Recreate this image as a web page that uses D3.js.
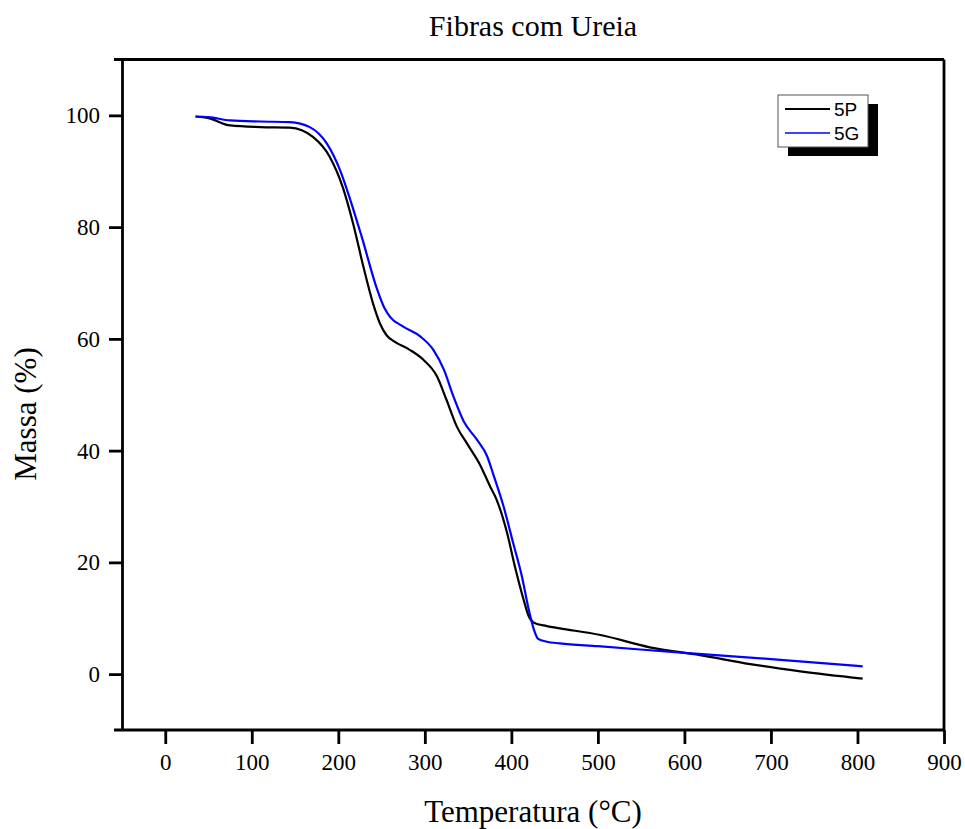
<!DOCTYPE html>
<html>
<head>
<meta charset="utf-8">
<script src="https://cdn.jsdelivr.net/npm/d3@7"></script>
<style>
  body { margin: 0; background: #fff; }
</style>
</head>
<body>
<svg width="965" height="829"></svg>
<script>
// Temperatura (°C) e massa (%) de cada amostra
const temp5P = [35, 50, 75, 110, 144, 171, 190, 205, 217, 229, 240, 248, 256, 264, 283, 298, 314, 325, 337, 349, 364, 376, 383, 395, 404, 414, 420, 426, 441, 456, 503, 560, 618, 676, 734, 806];
const massa5P = [99.8, 99.5, 98.2, 97.9, 97.8, 96.1, 92.6, 87.2, 80.7, 72.9, 66.4, 62.8, 60.6, 59.6, 58.0, 56.3, 53.3, 49.1, 44.3, 41.2, 37.4, 33.4, 31.2, 25.3, 19.3, 13.4, 10.4, 9.2, 8.6, 8.2, 7.0, 4.8, 3.4, 1.8, 0.5, -0.8];

const temp5G = [35, 50, 75, 110, 144, 167, 187, 202, 214, 227, 245, 253, 260, 275, 295, 310, 322, 333, 345, 360, 372, 379, 391, 402, 412, 420, 426, 431, 441, 456, 500, 600, 700, 806];
const massa5G = [99.8, 99.7, 99.1, 98.9, 98.8, 97.9, 94.9, 90.2, 84.8, 78.3, 68.8, 65.6, 63.9, 62.2, 60.4, 58.0, 54.5, 49.7, 45.2, 42.0, 39.0, 35.8, 30.0, 23.5, 17.6, 11.6, 8.0, 6.3, 5.8, 5.5, 5.0, 3.8, 2.7, 1.4];

const xTicks = [0, 100, 200, 300, 400, 500, 600, 700, 800, 900];
const yTicks = [0, 20, 40, 60, 80, 100];

const series = [
    { nome: "5P", cor: "#000000", t: temp5P, m: massa5P },
    { nome: "5G", cor: "#0000ff", t: temp5G, m: massa5G }
];

const serif = "'Liberation Serif', 'Times New Roman', serif";
const svg = d3.select("svg");
const pLeft = 122, pRight = 944, pTop = 59.5, pBottom = 730;

const xScale = d3.scaleLinear().domain([-50, 900]).range([pLeft, pRight]);
const yScale = d3.scaleLinear().domain([-10, 110]).range([pBottom, pTop]);

// Moldura (topo e direita sem ticks)
svg.append("line").attr("x1", pLeft - 8).attr("x2", pRight).attr("y1", pTop).attr("y2", pTop)
    .attr("stroke", "#000").attr("stroke-width", 2.8);
svg.append("line").attr("x1", pRight).attr("x2", pRight).attr("y1", pTop).attr("y2", pBottom)
    .attr("stroke", "#000").attr("stroke-width", 2.8);

// Eixo X
const xAxis = svg.append("g").attr("transform", `translate(0, ${pBottom})`)
    .call(d3.axisBottom(xScale).tickValues(xTicks).tickSize(14).tickSizeOuter(0).tickPadding(10));
xAxis.select(".domain").attr("d", `M${pLeft - 8},0H${pRight}`);

// Eixo Y
const yAxis = svg.append("g").attr("transform", `translate(${pLeft}, 0)`)
    .call(d3.axisLeft(yScale).tickValues(yTicks).tickSize(13).tickSizeOuter(0).tickPadding(9));

svg.selectAll(".domain").attr("stroke-width", 2.8);
svg.selectAll(".tick line").attr("stroke-width", 2.8);
svg.selectAll(".tick text")
    .style("font-size", "23px")
    .style("font-family", serif)
    .attr("fill", "#000");

// Curvas
const line = d3.line().curve(d3.curveMonotoneX);
series.forEach(s => {
    svg.append("path")
        .attr("d", line(s.t.map((t, i) => [xScale(t), yScale(s.m[i])])))
        .attr("fill", "none")
        .attr("stroke", s.cor)
        .attr("stroke-width", 2.2);
});

// Títulos
svg.append("text").attr("x", 533).attr("y", 36).attr("text-anchor", "middle")
    .style("font-family", serif).style("font-size", "30px").text("Fibras com Ureia");
svg.append("text").attr("x", 533).attr("y", 822).attr("text-anchor", "middle")
    .style("font-family", serif).style("font-size", "31px").text("Temperatura (°C)");
svg.append("text").attr("transform", "translate(36, 414) rotate(-90)")
    .attr("text-anchor", "middle")
    .style("font-family", serif).style("font-size", "31px").text("Massa (%)");

// Legenda
const lg = svg.append("g").attr("transform", "translate(778, 95)");
lg.append("rect").attr("x", 10).attr("y", 9).attr("width", 90).attr("height", 52).attr("fill", "#000");
lg.append("rect").attr("x", 0).attr("y", 0).attr("width", 90).attr("height", 52)
    .attr("fill", "#fff").attr("stroke", "#555").attr("stroke-width", 1);
series.forEach((s, i) => {
    const y = 14 + i * 24;
    lg.append("line").attr("x1", 7).attr("x2", 52).attr("y1", y).attr("y2", y)
        .attr("stroke", s.cor).attr("stroke-width", i === 0 ? 2 : 1.6);
    lg.append("text").attr("x", 56).attr("y", y + 7).attr("fill", "#000")
        .style("font-family", "'Liberation Sans', Arial, sans-serif").style("font-size", "19px").text(s.nome);
});
</script>
</body>
</html>
